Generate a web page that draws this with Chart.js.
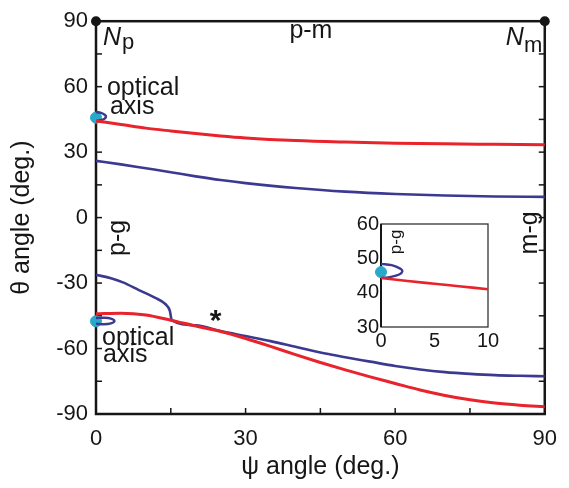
<!DOCTYPE html>
<html lang="en">
<head>
<meta charset="UTF-8">
<title>theta vs psi</title>
<script src="https://cdn.jsdelivr.net/npm/chart.js"></script>
<style>
  body { margin: 0; background: #fff; }
  #wrap { position: relative; width: 569px; height: 488px; }
  #mainChart { position: absolute; left: 0; top: 0; }
  #insetChart { position: absolute; left: 335px; top: 200px; }
</style>
</head>
<body>
<div id="wrap">
  <canvas id="mainChart" width="569" height="488"></canvas>
  <canvas id="insetChart" width="175" height="160"></canvas>
</div>
<script>
// upper branch
const psiUpper = [0, 5, 10, 15, 20, 25, 30, 40, 50, 60, 70, 80, 90];
const redUpper = [44.3, 42.7, 41.0, 39.7, 38.5, 37.4, 36.5, 35.3, 34.6, 34.1, 33.8, 33.6, 33.4];
const blueUpper = [26.0, 24.4, 22.6, 20.8, 18.9, 17.2, 15.8, 13.6, 11.9, 10.8, 10.1, 9.7, 9.5];
// lower branch
const psiRedLower = [0, 5, 10, 15, 20, 25, 30, 35, 40, 45, 50, 55, 60, 65, 70, 75, 80, 85, 90];
const redLower = [-44.1, -43.8, -44.6, -47.0, -49.7, -52.2, -55.4, -59.0, -62.8, -66.4, -69.8, -73.0, -76.0, -79.0, -81.5, -83.5, -85.0, -86.0, -86.7];
const psiBlueLower = [0, 3, 5.4, 8.6, 11.9, 13.9, 14.8, 15.2, 20, 25, 30, 35, 40, 46, 50, 55, 60, 65, 70, 75, 80, 85, 90];
const blueLower = [-26.2, -27.8, -29.7, -33.2, -36.8, -39.6, -42.6, -47.0, -49.4, -52.0, -54.3, -56.6, -59.2, -62.3, -64.0, -66.0, -68.0, -69.6, -70.8, -71.6, -72.2, -72.5, -72.7];
// little loops at the optical axes
const loopUpperPsi = [0, 1.0, 1.8, 2.0, 1.7, 0.9, 0.1];
const loopUpperTheta = [48.4, 48.0, 47.0, 46.2, 45.3, 44.6, 44.3];
const loopLowerPsi = [0, 1.5, 3.0, 3.7, 3.0, 1.5, 0];
const loopLowerTheta = [-46.0, -45.9, -46.3, -47.4, -48.5, -48.9, -48.6];
const opticPsi = [0, 0];
const opticTheta = [45.8, -47.5];
const xTicks = [0, 30, 60, 90];
const yTicks = [-90, -60, -30, 0, 30, 60, 90];
// inset: psi 0..10
const insetPsi = [0, 2.5, 5, 7.5, 10];
const insetRed = [44.3, 43.4, 42.6, 41.8, 41.0];
const insetOpticTheta = [46.0];
const insetXTicks = [0, 5, 10];
const insetYTicks = [30, 40, 50, 60];

const RED = '#e8232b', BLUE = '#3b3990', CYAN = '#27a9c9', INK = '#161616';
const FONT = '"Liberation Sans", Arial, sans-serif';

const pts = (xs, ys) => xs.map((x, i) => ({ x: x, y: ys[i] }));

function line(ctx, x1, y1, x2, y2) {
    ctx.beginPath(); ctx.moveTo(x1, y1); ctx.lineTo(x2, y2); ctx.stroke();
}

function text(ctx, t, x, y, size, opts = {}) {
    ctx.save();
    ctx.font = (opts.italic ? 'italic ' : '') + (opts.bold ? 'bold ' : '') + size + 'px ' + FONT;
    ctx.fillStyle = INK;
    ctx.textAlign = opts.align || 'left';
    ctx.textBaseline = opts.baseline || 'alphabetic';
    ctx.translate(x, y);
    if (opts.rot) ctx.rotate(opts.rot);
    ctx.fillText(t, 0, 0);
    const w = ctx.measureText(t).width;
    ctx.restore();
    return w;
}

const mainDecor = {
    id: 'mainDecor',
    beforeDatasetsDraw(chart) {
        const { ctx, chartArea: a, scales: { x, y } } = chart;
        ctx.save();
        ctx.strokeStyle = INK;
        ctx.lineWidth = 1.5;
        for (let v = -75; v <= 75; v += 15) {
            const py = y.getPixelForValue(v);
            line(ctx, a.left, py, a.left + 6, py);
            line(ctx, a.right, py, a.right - 6, py);
        }
        for (let v = 15; v <= 75; v += 15) {
            const px = x.getPixelForValue(v);
            line(ctx, px, a.bottom, px, a.bottom - 6);
        }
        ctx.lineWidth = 2.5;
        ctx.strokeRect(a.left, a.top, a.right - a.left, a.bottom - a.top);
        ctx.restore();
    },
    afterDatasetsDraw(chart) {
        const { ctx, scales: { x, y } } = chart;
        const X = v => x.getPixelForValue(v), Y = v => y.getPixelForValue(v);
        ctx.save();
        ctx.fillStyle = INK;
        [0, 90].forEach(v => {
            ctx.beginPath(); ctx.arc(X(v), Y(90), 5, 0, Math.PI * 2); ctx.fill();
        });
        ctx.restore();

        let w = text(ctx, 'N', X(1.4), Y(79.1), 25, { italic: true });
        text(ctx, 'p', X(1.4) + w + 1, Y(77.3), 22);
        text(ctx, 'p-m', X(43.1), Y(82.3), 25, { align: 'center' });
        w = text(ctx, 'N', X(82.2), Y(79.1), 25, { italic: true });
        text(ctx, 'm', X(82.2) + w, Y(76), 22);

        text(ctx, 'optical', X(2.2), Y(56.3), 25);
        text(ctx, 'axis', X(2.8), Y(47.6), 25);
        text(ctx, 'optical', X(1.2), Y(-58.6), 25);
        text(ctx, 'axis', X(1.4), Y(-66.3), 25);

        text(ctx, 'p-g', X(4.5), Y(-9.3), 25, { align: 'center', baseline: 'middle', rot: -Math.PI / 2 });
        text(ctx, 'm-g', X(87), Y(-7), 25, { align: 'center', baseline: 'middle', rot: -Math.PI / 2 });
        text(ctx, '*', X(24), Y(-47.5), 30, { align: 'center', baseline: 'middle', bold: true });
    }
};

const lineDs = (data, color, width) => ({
    data: data, borderColor: color, borderWidth: width, pointRadius: 0,
    showLine: true, cubicInterpolationMode: 'monotone', clip: false
});

new Chart(document.getElementById('mainChart'), {
    type: 'scatter',
    data: {
        datasets: [
            lineDs(pts(psiUpper, redUpper), RED, 3),
            lineDs(pts(psiRedLower, redLower), RED, 3),
            lineDs(pts(psiUpper, blueUpper), BLUE, 2.6),
            lineDs(pts(psiBlueLower, blueLower), BLUE, 2.6),
            { data: pts(loopUpperPsi, loopUpperTheta), borderColor: BLUE, borderWidth: 2.4, pointRadius: 0, showLine: true, tension: 0.4, clip: false },
            { data: pts(loopLowerPsi, loopLowerTheta), borderColor: BLUE, borderWidth: 2.4, pointRadius: 0, showLine: true, tension: 0.4, clip: false },
            { data: pts(opticPsi, opticTheta), backgroundColor: CYAN, borderColor: CYAN, pointRadius: 5.5, showLine: false, clip: false }
        ]
    },
    options: {
        responsive: false,
        animation: false,
        devicePixelRatio: 1,
        layout: { padding: { top: 19, right: 14, left: 0, bottom: 0 } },
        plugins: { legend: { display: false }, tooltip: { enabled: false } },
        scales: {
            x: {
                type: 'linear', min: 0, max: 90,
                grid: { display: false, drawTicks: false },
                border: { display: false },
                ticks: {
                    stepSize: 15, autoSkip: false, maxRotation: 0, padding: 12,
                    color: INK, font: { size: 22, family: FONT },
                    callback: v => xTicks.includes(v) ? String(v) : ''
                },
                title: { display: true, text: 'ψ angle (deg.)', color: INK, font: { size: 25, family: FONT }, padding: { top: 0, bottom: 6 } },
                afterFit: s => { s.height = 74; }
            },
            y: {
                type: 'linear', min: -90, max: 90,
                grid: { display: false, drawTicks: false },
                border: { display: false },
                ticks: {
                    stepSize: 15, autoSkip: false, padding: 8,
                    color: INK, font: { size: 22, family: FONT },
                    callback: v => yTicks.includes(v) ? String(v) : ''
                },
                title: { display: true, text: 'θ angle (deg.)', color: INK, font: { size: 25, family: FONT }, padding: { top: 7, bottom: 0 } },
                afterFit: s => { s.width = 96; }
            }
        }
    },
    plugins: [mainDecor]
});

const insetDecor = {
    id: 'insetDecor',
    beforeDatasetsDraw(chart) {
        const { ctx, chartArea: a } = chart;
        ctx.save();
        ctx.fillStyle = '#fff';
        ctx.fillRect(a.left, a.top, a.right - a.left, a.bottom - a.top);
        ctx.strokeStyle = '#333';
        ctx.lineWidth = 1.3;
        ctx.strokeRect(a.left, a.top, a.right - a.left, a.bottom - a.top);
        ctx.strokeStyle = INK;
        ctx.lineWidth = 2;
        line(ctx, a.left, a.top, a.left, a.bottom);
        ctx.restore();
    },
    afterDatasetsDraw(chart) {
        const { ctx, scales: { x, y } } = chart;
        text(ctx, 'p-g', x.getPixelForValue(1.4), y.getPixelForValue(54.8), 17, { align: 'center', baseline: 'middle', rot: -Math.PI / 2 });
    }
};

new Chart(document.getElementById('insetChart'), {
    type: 'scatter',
    data: {
        datasets: [
            lineDs(pts(insetPsi, insetRed), RED, 2.6),
            { data: pts(loopUpperPsi, loopUpperTheta), borderColor: BLUE, borderWidth: 2.4, pointRadius: 0, showLine: true, tension: 0.4, clip: false },
            { data: pts([0], insetOpticTheta), backgroundColor: CYAN, borderColor: CYAN, pointRadius: 5.5, showLine: false, clip: false }
        ]
    },
    options: {
        responsive: false,
        animation: false,
        devicePixelRatio: 1,
        layout: { padding: { top: 24, right: 22, left: 0, bottom: 0 } },
        plugins: { legend: { display: false }, tooltip: { enabled: false } },
        scales: {
            x: {
                type: 'linear', min: 0, max: 10,
                grid: { display: false, drawTicks: false },
                border: { display: false },
                ticks: {
                    stepSize: 5, autoSkip: false, maxRotation: 0, padding: 2,
                    color: INK, font: { size: 20, family: FONT },
                    callback: v => insetXTicks.includes(v) ? String(v) : ''
                },
                afterFit: s => { s.height = 33; }
            },
            y: {
                type: 'linear', min: 30, max: 60,
                grid: { display: false, drawTicks: false },
                border: { display: false },
                ticks: {
                    stepSize: 10, autoSkip: false, padding: 2,
                    color: INK, font: { size: 20, family: FONT },
                    callback: v => insetYTicks.includes(v) ? String(v) : ''
                },
                afterFit: s => { s.width = 46; }
            }
        }
    },
    plugins: [insetDecor]
});
</script>
</body>
</html>
